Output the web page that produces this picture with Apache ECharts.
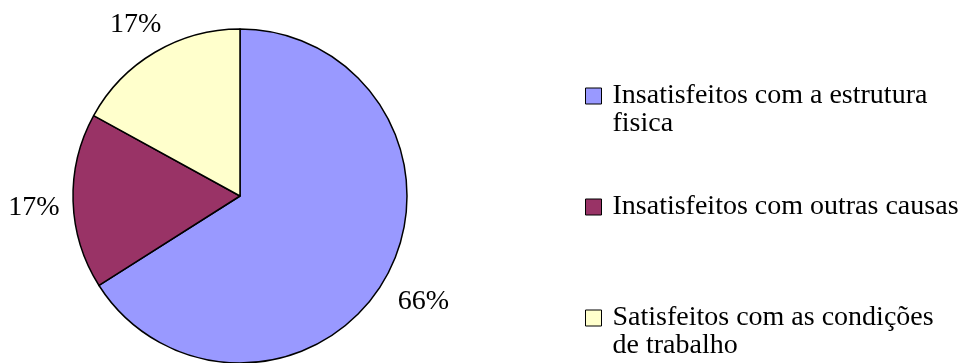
<!DOCTYPE html>
<html>
<head>
<meta charset="utf-8">
<script src="https://cdn.jsdelivr.net/npm/echarts@6/dist/echarts.min.js"></script>
<style>
  html, body { margin: 0; padding: 0; background: #fff; }
  #chart { width: 966px; height: 363px; }
</style>
</head>
<body>
<div id="chart"></div>
<script>
// dados do gráfico
const categories = [
  'Insatisfeitos com a estrutura fisica',
  'Insatisfeitos com outras causas',
  'Satisfeitos com as condições de trabalho'
];
const values = [66, 17, 17];
// legenda quebrada em linhas como no original
const legendLines = [
  ['Insatisfeitos com a estrutura', 'fisica'],
  ['Insatisfeitos com outras causas'],
  ['Satisfeitos com as condições', 'de trabalho']
];
const sliceColors = ['#9999FF', '#993366', '#FFFFCC'];

const font = '"Liberation Serif", "Times New Roman", serif';
const cx = 240, cy = 196, R = 167;
const lineH = 28;

const total = values.reduce((a, b) => a + b, 0);

const chart = echarts.init(document.getElementById('chart'));

const option = {
  animation: false,
  color: sliceColors,
  legend: {
    orient: 'vertical',
    left: 585,
    top: 54,
    padding: 0,
    itemGap: 55,
    itemWidth: 16,
    itemHeight: 16,
    icon: 'rect',
    itemStyle: { borderColor: '#000', borderWidth: 1 },
    textStyle: { fontFamily: font, fontSize: 28, lineHeight: lineH, color: '#000', padding: [0, 0, 0, 6] },
    data: categories,
    // linha vazia no início: assim a primeira linha fica ao lado do quadrado
    formatter: name => {
      const lines = legendLines[categories.indexOf(name)];
      return lines.length > 1 ? '\n' + lines.join('\n') : lines[0];
    }
  },
  series: [
    {
      type: 'pie',
      center: [cx, cy],
      radius: R,
      startAngle: 90,
      clockwise: true,
      itemStyle: { borderColor: '#000', borderWidth: 1.5 },
      label: {
        show: true,
        position: 'outside',
        formatter: p => p.value + '%',
        fontFamily: font,
        fontSize: 28,
        color: '#000'
      },
      labelLine: { show: false, length: 4, length2: 0 },
      // rótulos centrados fora da fatia, na direção do ângulo médio
      labelLayout: function (params) {
        const i = params.dataIndex;
        let cum = 0;
        for (let k = 0; k < i; k++) cum += values[k];
        const theta = 2 * Math.PI * (cum + values[i] / 2) / total;
        const s = Math.sin(theta), c = Math.cos(theta);
        const w = params.labelRect.width, h = params.labelRect.height;
        const off = R + 13 + Math.abs(s) * w / 2 + Math.abs(c) * h / 2;
        return {
          x: cx + s * off,
          y: cy - c * off + 5, // +5: centro visual dos algarismos
          align: 'center',
          verticalAlign: 'middle'
        };
      },
      emphasis: { disabled: true },
      data: categories.map((name, i) => ({ name: name, value: values[i] }))
    }
  ]
};

chart.setOption(option);
</script>
</body>
</html>
